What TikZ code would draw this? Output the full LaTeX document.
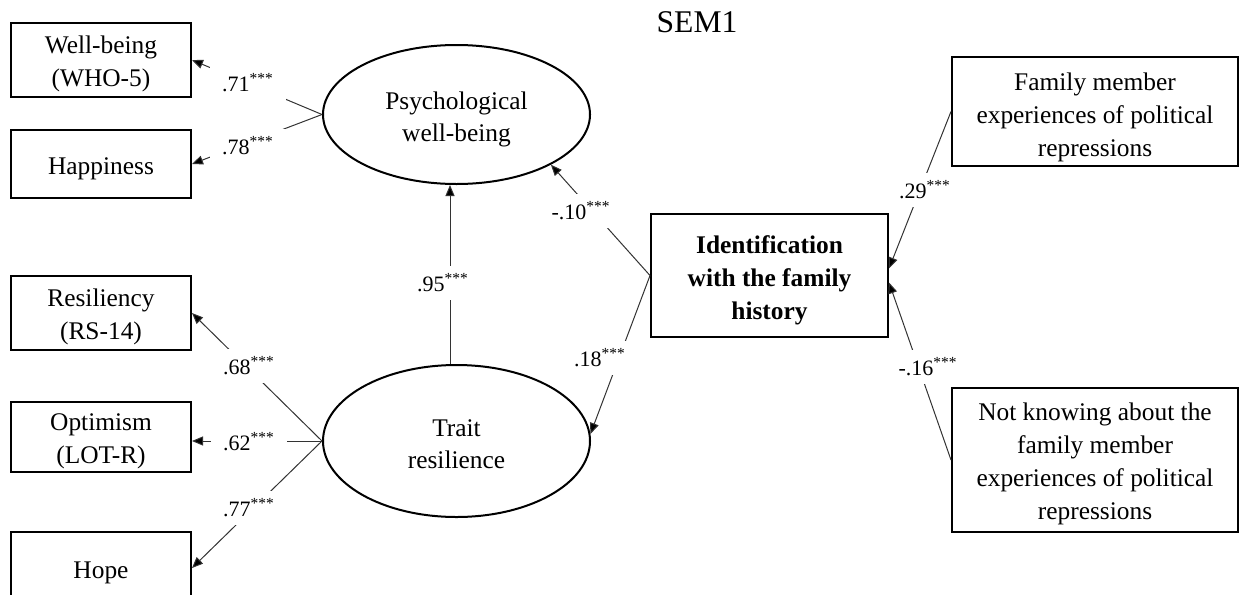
\documentclass[tikz,border=0pt]{standalone}
\usepackage{fontspec}
\setmainfont{Liberation Serif}
\usetikzlibrary{arrows.meta,shapes.geometric}
\newcommand{\mytop}[1][13pt]{\rule{0pt}{#1}}
\begin{document}
\begin{tikzpicture}[x=0.5pt,y=-0.5pt,
  box/.style={draw, line width=1pt, inner sep=0pt, align=center, font=\fontsize{12.7}{16.5}\selectfont},
  lat/.style={ellipse, draw, line width=1pt, inner sep=0pt, align=center, minimum width=133.5pt, font=\fontsize{12.7}{16}\selectfont},
  con/.style={line width=0.5pt, draw=black!80, -{Triangle[length=5.5pt,width=4.5pt,fill=black]}},
  lbl/.style={fill=white, inner xsep=6pt, inner ysep=4pt, font=\fontsize{11}{13}\selectfont}
]
\useasboundingbox (0,0) rectangle (1240,594);
\clip (0,0) rectangle (1240,594);

% observed indicators (left)
\node[box, minimum width=90pt, minimum height=37pt] (wb) at (101,60) {\mytop Well-being\\(WHO-5)};
\node[box, minimum width=90pt, minimum height=34pt] (hap) at (101,164) {\mytop Happiness};
\node[box, minimum width=90pt, minimum height=37pt] (res) at (101,313) {\mytop Resiliency\\(RS-14)};
\node[box, minimum width=90pt, minimum height=35pt] (opt) at (101,437) {\mytop Optimism\\(LOT-R)};
\node[box, minimum width=90pt, minimum height=36pt] (hope) at (101,568) {\mytop Hope};

% latent variables
\node[lat, minimum height=69.5pt] (psy) at (456.5,114.5) {\mytop[14pt]Psychological\\well-being};
\node[lat, minimum height=76pt] (trait) at (456.5,441) {\mytop[11.5pt]Trait\\resilience};

% right side
\node[box, minimum width=118.5pt, minimum height=61.5pt, font=\bfseries\fontsize{12.7}{16.5}\selectfont] (id) at (769.5,275.5) {\mytop[14pt]Identification\\with the family\\history};
\node[box, minimum width=143pt, minimum height=54.5pt] (fam) at (1095,111.5) {\mytop[14.5pt]Family member\\experiences of political\\repressions};
\node[box, minimum width=143pt, minimum height=72pt] (nk) at (1095,460) {\mytop Not knowing about the\\family member\\experiences of political\\repressions};

\node[font=\fontsize{15.8}{18}\selectfont] (title) at (697,22) {SEM1};

% connectors
\draw[con] (psy.west) -- (wb.east);
\draw[con] (psy.west) -- (hap.east);
\draw[con] (trait.west) -- (res.east);
\draw[con] (trait.west) -- (trait.west -| opt.east);
\draw[con] (trait.west) -- (hope.east);
\draw[con] ([xshift=-3.25pt]trait.north) -- ([xshift=-3.25pt]psy.south);
\draw[con] (id.west) -- (psy.-28);
\draw[con] (id.west) -- (trait.3);
\draw[con] (fam.west) -- ([yshift=3.5pt]id.east);
\draw[con] (nk.west) -- ([yshift=-3.5pt]id.east);

% coefficient labels
\node[lbl] (l1) at (248,83) {.71\textsuperscript{***}};
\node[lbl] (l2) at (248,146) {.78\textsuperscript{***}};
\node[lbl] (l3) at (249,366) {.68\textsuperscript{***}};
\node[lbl] (l4) at (249,442) {.62\textsuperscript{***}};
\node[lbl] (l5) at (249,508) {.77\textsuperscript{***}};
\node[lbl] (l6) at (443,283) {.95\textsuperscript{***}};
\node[lbl] (l7) at (581,211) {-.10\textsuperscript{***}};
\node[lbl] (l8) at (600,358) {.18\textsuperscript{***}};
\node[lbl] (l9) at (925,190) {.29\textsuperscript{***}};
\node[lbl] (l10) at (928,367) {-.16\textsuperscript{***}};
\end{tikzpicture}
\end{document}
